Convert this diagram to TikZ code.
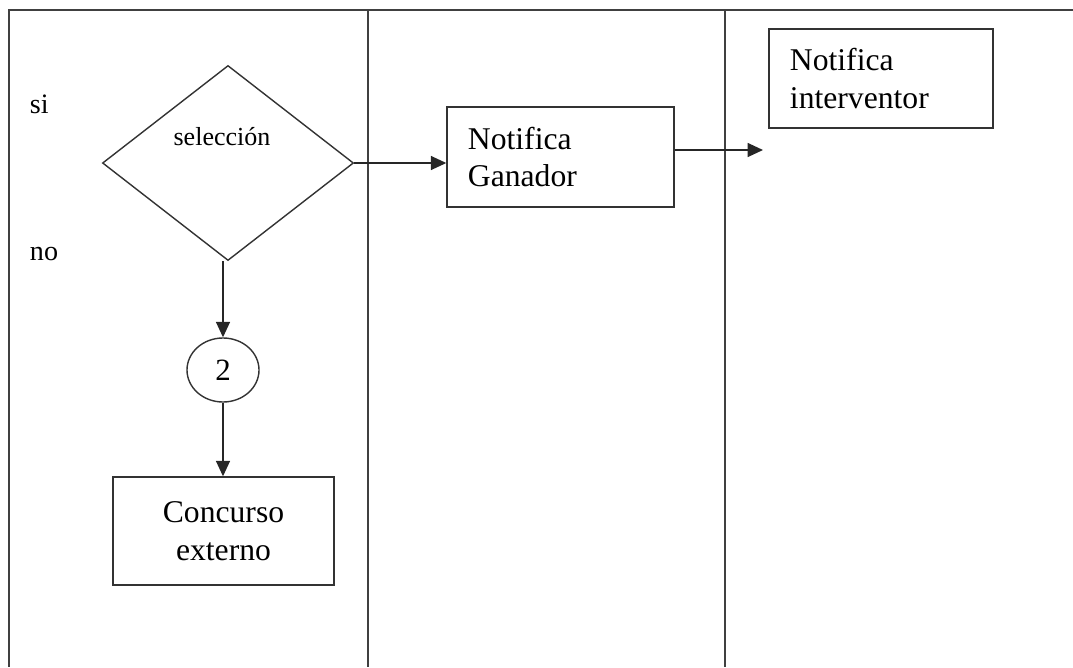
\documentclass[tikz,border=0pt]{standalone}
\usepackage{fontspec}
\setmainfont{Liberation Serif}
\usetikzlibrary{shapes.geometric, arrows.meta, positioning}

\begin{document}
\begin{tikzpicture}[x=0.025cm, y=-0.025cm, >={Triangle[length=11pt, width=10pt]},
    lane/.style={draw=black!75, line width=0.8pt},
    box/.style={draw=black!80, line width=1pt, font=\fontsize{22.5}{27}\selectfont},
    flow/.style={->, draw=black!85, line width=1pt}]
    \useasboundingbox (0,0) rectangle (1073,667);

    % carriles
    \draw[lane] (8,10) -- (1073,10);
    \draw[lane] (9,10) -- (9,667);
    \draw[lane] (368,10) -- (368,667);
    \draw[lane] (725,10) -- (725,667);

    \node[font=\fontsize{20}{24}\selectfont, anchor=base west] (si) at (25,113) {si};
    \node[font=\fontsize{20}{24}\selectfont, anchor=base west] (no) at (25,260) {no};

    \node[draw=black!80, line width=1pt, diamond, minimum width=6.275cm, minimum height=4.875cm, inner sep=0pt] (sel) at (228,163) {};
    \node[font=\fontsize{18.5}{22}\selectfont, anchor=base] (seltxt) at (222,145) {selección};
    \node[box, ellipse, minimum width=1.8cm, minimum height=1.6cm, inner sep=0pt, font=\fontsize{22}{26}\selectfont] (two) at (223,370) {2};
    \node[box, minimum width=5.525cm, minimum height=2.7cm, align=center] (ext) at (223.5,531) {Concurso\\externo};
    \node[box, minimum width=5.675cm, minimum height=2.5cm, text width=4.625cm, inner xsep=0.525cm, align=left] (gan) at (560.5,157) {Notifica\\Ganador};
    \node[box, minimum width=5.6cm, minimum height=2.475cm, text width=4.55cm, inner xsep=0.525cm, align=left] (int) at (881,78.5) {Notifica\\interventor};
    \coordinate (fin) at (763,150);

    \draw[flow] (sel.south -| two.north) -- (two.north);
    \draw[flow] (two.south) -- (two.south |- ext.north);
    \draw[flow] (sel.east) -- (sel.east -| gan.west);
    \draw[flow] (gan.east |- fin) -- (fin);
\end{tikzpicture}
\end{document}
